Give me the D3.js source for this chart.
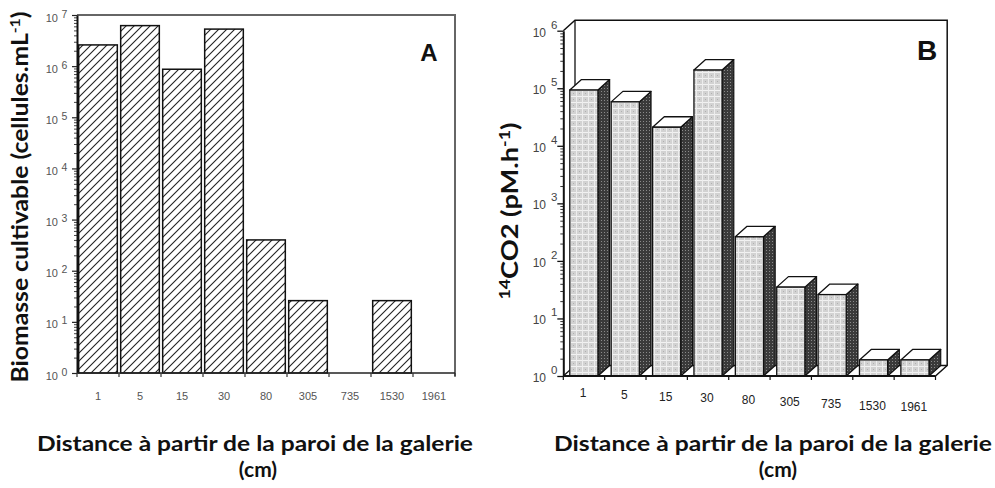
<!DOCTYPE html>
<html><head><meta charset="utf-8">
<script src="https://cdn.jsdelivr.net/npm/d3@7"></script>
<style>body{margin:0;background:#fff}svg{display:block}</style>
</head><body><svg id="c" width="995" height="488"></svg>
<script>
// ---- data ----
const categories = ["1","5","15","30","80","305","735","1530","1961"];
const biomassA = [2.6e6, 6.2e6, 8.7e5, 5.3e6, 400, 26, null, 26, null];
const co2B = [9.3e4, 5.8e4, 2.1e4, 2.07e5, 262, 35, 26, 1.9, 1.9];
const exponentsA = [0,1,2,3,4,5,6,7];
const exponentsB = [0,1,2,3,4,5,6];
const xTitle = "Distance à partir de la paroi de la galerie";
const xUnit = "(cm)";
const panelA = "A", panelB = "B";

const svg = d3.select("#c");
const defs = svg.append("defs");

// patterns
const hatch = defs.append("pattern").attr("id","hatchA").attr("patternUnits","userSpaceOnUse")
  .attr("width",8).attr("height",8);
hatch.append("rect").attr("width",8).attr("height",8).attr("fill","#fff");
hatch.append("path").attr("d","M-2,2 L2,-2 M0,8 L8,0 M6,10 L10,6")
  .attr("stroke","#222").attr("stroke-width",1.1);

const front = defs.append("pattern").attr("id","frontB").attr("patternUnits","userSpaceOnUse")
  .attr("width",6).attr("height",6);
front.append("rect").attr("width",6).attr("height",6).attr("fill","#d2d2d2");
front.append("rect").attr("x",0).attr("y",0).attr("width",6).attr("height",1).attr("fill","#f2f2f2");
front.append("rect").attr("x",0).attr("y",0).attr("width",1).attr("height",6).attr("fill","#ededed");
front.append("rect").attr("x",3).attr("y",3).attr("width",1).attr("height",1).attr("fill","#b0b0b0");

const side = defs.append("pattern").attr("id","sideB").attr("patternUnits","userSpaceOnUse")
  .attr("width",3).attr("height",3);
side.append("rect").attr("width",3).attr("height",3).attr("fill","#3a3a3a");
side.append("rect").attr("x",1).attr("y",1).attr("width",1).attr("height",1).attr("fill","#8a8a8a");

const tickFont = "Liberation Sans, Arial, sans-serif";
const titleFont = "Lato, 'Open Sans', sans-serif";

function fit(sel, target){
  sel.attr("textLength", target).attr("lengthAdjust","spacingAndGlyphs");
}

// ================= Chart A =================
const A = {left:77, right:455, top:15, bottom:373};
const yA = d3.scaleLog().domain([1,1e7]).range([A.bottom, A.top]);
const xA = d3.scaleBand().domain(categories).range([A.left, A.right]);
const xAbar = d3.scaleBand().domain(categories).range([A.left, A.right]).paddingInner(0.08).paddingOuter(0.04);
const gA = svg.append("g");

// frame (top & right)
gA.append("path").attr("d",`M${A.left},${A.top} H${A.right} V${A.bottom+3}`)
  .attr("fill","none").attr("stroke","#666").attr("stroke-width",2);

// bars
gA.selectAll("rect.bar").data(categories.map((c,i)=>({c,v:biomassA[i]})).filter(d=>d.v!=null))
  .join("rect").attr("class","bar")
  .attr("x",d=>xAbar(d.c)).attr("width",xAbar.bandwidth())
  .attr("y",d=>yA(d.v)).attr("height",d=>yA(1)-yA(d.v))
  .attr("fill","url(#hatchA)").attr("stroke","#111").attr("stroke-width",1.5);

// y axis
const majorA = exponentsA.map(e=>Math.pow(10,e));
const minorA = yA.ticks().filter(t=>!majorA.some(m=>Math.abs(m-t)<1e-9));
gA.append("g").attr("transform",`translate(${A.left},0)`)
  .call(d3.axisLeft(yA).tickValues(minorA).tickSize(3).tickFormat(""))
  .call(g=>g.select(".domain").remove())
  .selectAll("line").attr("stroke","#444");
gA.append("g").attr("transform",`translate(${A.left},0)`)
  .call(d3.axisLeft(yA).tickValues(majorA).tickSize(5).tickSizeOuter(0).tickFormat(""))
  .call(g=>g.select(".domain").attr("stroke","#111").attr("stroke-width",2))
  .selectAll("line").attr("stroke","#222").attr("stroke-width",1.2);
exponentsA.forEach(e=>{
  const y = yA(Math.pow(10,e));
  gA.append("text").attr("x",58).attr("y",y+6.5).attr("text-anchor","end")
    .attr("font-family",tickFont).attr("font-size",11).attr("fill","#555").text("10");
  gA.append("text").attr("x",61.5).attr("y",y+2.5)
    .attr("font-family",tickFont).attr("font-size",10.5).attr("fill","#555").text(e);
});

// x axis
gA.append("line").attr("x1",A.left).attr("x2",A.right).attr("y1",A.bottom).attr("y2",A.bottom)
  .attr("stroke","#222").attr("stroke-width",1.5);
gA.selectAll("line.xt").data(categories.concat(["end"])).join("line").attr("class","xt")
  .attr("x1",(d,i)=>i<categories.length?xA(d):A.right).attr("x2",(d,i)=>i<categories.length?xA(d):A.right)
  .attr("y1",A.bottom).attr("y2",A.bottom+4).attr("stroke","#333").attr("stroke-width",1.2);
gA.selectAll("text.xl").data(categories).join("text").attr("class","xl")
  .attr("x",d=>xA(d)+xA.bandwidth()/2).attr("y",400).attr("text-anchor","middle")
  .attr("font-family",tickFont).attr("font-size",11).attr("fill","#555").text(d=>d);

// panel label
gA.append("text").attr("x",429).attr("y",61).attr("text-anchor","middle")
  .attr("font-family","Liberation Sans, Arial, sans-serif").attr("font-weight","bold")
  .attr("font-size",24).attr("fill","#111").text(panelA);

// y title
const ytA = gA.append("text").attr("transform","translate(28,197) rotate(-90)")
  .attr("text-anchor","middle").attr("font-family",titleFont).attr("font-weight","bold")
  .attr("font-size",22).attr("fill","#111");
ytA.append("tspan").text("Biomasse cultivable (cellules.mL");
ytA.append("tspan").attr("dy",-8).attr("font-size",14).text("-1");
ytA.append("tspan").attr("dy",8).text(")");
fit(ytA, 371);

// x title
const xtA = gA.append("text").attr("x",255).attr("y",451).attr("text-anchor","middle")
  .attr("font-family",titleFont).attr("font-weight","bold").attr("font-size",21).attr("fill","#111").text(xTitle);
fit(xtA, 436);
gA.append("text").attr("x",258).attr("y",477).attr("text-anchor","middle")
  .attr("font-family",titleFont).attr("font-weight","bold").attr("font-size",21).attr("fill","#111").text(xUnit);

// ================= Chart B =================
const B = {left:563.3, right:935.5, top:30.7, bottom:376};
const dx = 11.7, dy = 10.5;
const yB = d3.scaleLog().domain([1,1e6]).range([B.bottom, B.top]);
const xB = d3.scaleBand().domain(categories).range([B.left, B.right]);
const xBbar = d3.scaleBand().domain(categories).range([B.left, B.right]).paddingInner(0.32).paddingOuter(0.157);
const gB = svg.append("g");

// back wall
gB.append("path").attr("d",`M${B.left},${B.top} L${B.left+dx},${B.top-dy} H${B.right+dx} V${B.bottom-dy} L${B.right},${B.bottom}`)
  .attr("fill","none").attr("stroke","#111").attr("stroke-width",1.5);
gB.append("path").attr("d",`M${B.left+dx},${B.top-dy} V${B.bottom-dy} H${B.right+dx} M${B.left},${B.bottom} L${B.left+dx},${B.bottom-dy}`)
  .attr("fill","none").attr("stroke","#111").attr("stroke-width",1.3);

// bars
const barsB = categories.map((c,i)=>({c,v:co2B[i]}));
const bg = gB.selectAll("g.bar").data(barsB).join("g").attr("class","bar");
bg.append("path").attr("d",d=>{
    const x1 = xBbar(d.c)+xBbar.bandwidth(), yt = yB(d.v), yb = yB(1);
    return `M${x1},${yt} L${x1+dx},${yt-dy} L${x1+dx},${yb-dy} L${x1},${yb} Z`;})
  .attr("fill","url(#sideB)").attr("stroke","#111").attr("stroke-width",1.2).attr("stroke-linejoin","round");
bg.append("path").attr("d",d=>{
    const x0 = xBbar(d.c), x1 = x0+xBbar.bandwidth(), yt = yB(d.v);
    return `M${x0},${yt} L${x0+dx},${yt-dy} L${x1+dx},${yt-dy} L${x1},${yt} Z`;})
  .attr("fill","#fff").attr("stroke","#111").attr("stroke-width",1.3).attr("stroke-linejoin","round");
bg.append("rect").attr("x",d=>xBbar(d.c)).attr("width",xBbar.bandwidth())
  .attr("y",d=>yB(d.v)).attr("height",d=>yB(1)-yB(d.v))
  .attr("fill","url(#frontB)").attr("stroke","#111").attr("stroke-width",1.3);

// y axis
const majorB = exponentsB.map(e=>Math.pow(10,e));
const minorB = yB.ticks().filter(t=>!majorB.some(m=>Math.abs(m-t)<1e-9));
gB.append("g").attr("transform",`translate(${B.left},0)`)
  .call(d3.axisLeft(yB).tickValues(minorB).tickSize(3).tickFormat(""))
  .call(g=>g.select(".domain").remove())
  .selectAll("line").attr("stroke","#333");
gB.append("g").attr("transform",`translate(${B.left},0)`)
  .call(d3.axisLeft(yB).tickValues(majorB).tickSize(6).tickSizeOuter(0).tickFormat(""))
  .call(g=>g.select(".domain").attr("stroke","#111").attr("stroke-width",2))
  .selectAll("line").attr("stroke","#111").attr("stroke-width",1.3);
exponentsB.forEach(e=>{
  const y = yB(Math.pow(10,e));
  gB.append("text").attr("x",546).attr("y",y+6).attr("text-anchor","end")
    .attr("font-family",tickFont).attr("font-size",12).attr("fill","#444").text("10");
  gB.append("text").attr("x",551).attr("y",y-2)
    .attr("font-family",tickFont).attr("font-size",11.5).attr("fill","#444").text(e);
});

// x axis
gB.append("line").attr("x1",B.left).attr("x2",B.right).attr("y1",B.bottom).attr("y2",B.bottom)
  .attr("stroke","#111").attr("stroke-width",2);
gB.selectAll("line.xt").data(categories.concat(["end"])).join("line").attr("class","xt")
  .attr("x1",(d,i)=>i<categories.length?xB(d):B.right).attr("x2",(d,i)=>i<categories.length?xB(d):B.right)
  .attr("y1",B.bottom).attr("y2",B.bottom+4).attr("stroke","#111").attr("stroke-width",1.2);
gB.selectAll("text.xl").data(categories).join("text").attr("class","xl")
  .attr("x",d=>xB(d)+xB.bandwidth()/2-1).attr("y",(d,i)=>397+i*1.8).attr("text-anchor","middle")
  .attr("font-family",tickFont).attr("font-size",12).attr("fill","#222").text(d=>d);

// panel label
gB.append("text").attr("x",927).attr("y",60).attr("text-anchor","middle")
  .attr("font-family","Liberation Sans, Arial, sans-serif").attr("font-weight","bold")
  .attr("font-size",28).attr("fill","#111").text(panelB);

// y title
const ytB = gB.append("text").attr("transform","translate(518,211) rotate(-90)")
  .attr("text-anchor","middle").attr("font-family",titleFont).attr("font-weight","bold")
  .attr("font-size",23).attr("fill","#111");
ytB.append("tspan").attr("font-size",15).attr("dy",-8).text("14");
ytB.append("tspan").attr("dy",8).text("CO2 (pM.h");
ytB.append("tspan").attr("dy",-8).attr("font-size",15).text("-1");
ytB.append("tspan").attr("dy",8).text(")");
fit(ytB, 177);

// x title
const xtB = gB.append("text").attr("x",773).attr("y",451).attr("text-anchor","middle")
  .attr("font-family",titleFont).attr("font-weight","bold").attr("font-size",21).attr("fill","#111").text(xTitle);
fit(xtB, 438);
gB.append("text").attr("x",778).attr("y",477).attr("text-anchor","middle")
  .attr("font-family",titleFont).attr("font-weight","bold").attr("font-size",21).attr("fill","#111").text(xUnit);
</script></body></html>
